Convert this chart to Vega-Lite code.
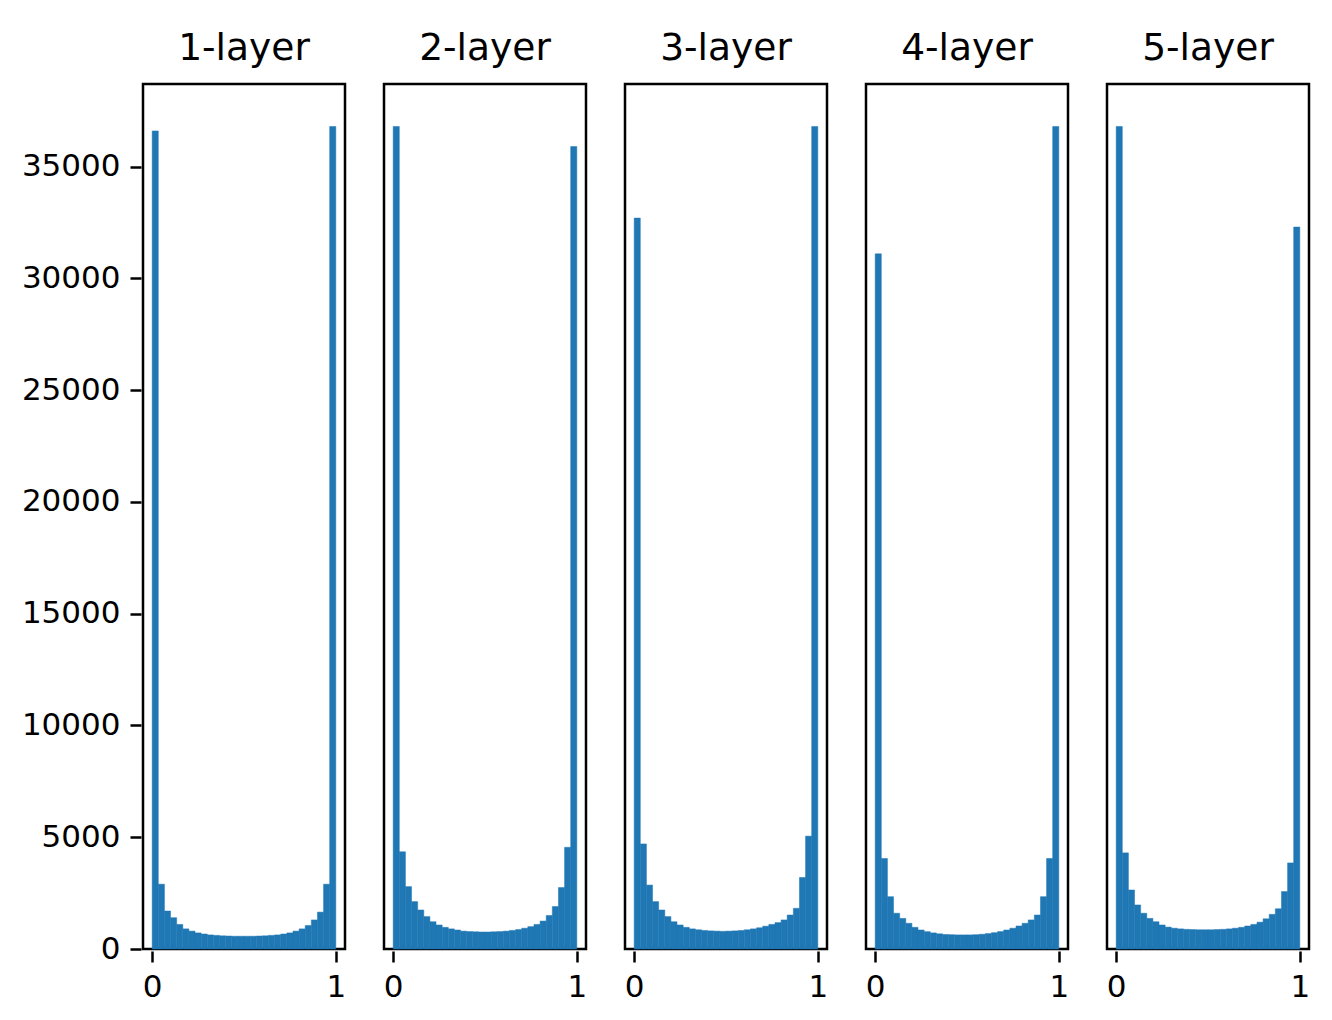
{
  "$schema": "https://vega.github.io/schema/vega-lite/v6.json",
  "background": "white",
  "padding": {"left": 21, "top": 30, "right": 10, "bottom": 10},
  "datasets": {
    "hist": [
      {"layer":"1-layer","b0":0,"b1":0.0333,"count":36600},{"layer":"1-layer","b0":0.0333,"b1":0.0667,"count":2900},{"layer":"1-layer","b0":0.0667,"b1":0.1,"count":1700},{"layer":"1-layer","b0":0.1,"b1":0.1333,"count":1400},{"layer":"1-layer","b0":0.1333,"b1":0.1667,"count":1100},{"layer":"1-layer","b0":0.1667,"b1":0.2,"count":900},{"layer":"1-layer","b0":0.2,"b1":0.2333,"count":800},{"layer":"1-layer","b0":0.2333,"b1":0.2667,"count":720},{"layer":"1-layer","b0":0.2667,"b1":0.3,"count":670},{"layer":"1-layer","b0":0.3,"b1":0.3333,"count":630},{"layer":"1-layer","b0":0.3333,"b1":0.3667,"count":610},{"layer":"1-layer","b0":0.3667,"b1":0.4,"count":590},{"layer":"1-layer","b0":0.4,"b1":0.4333,"count":580},{"layer":"1-layer","b0":0.4333,"b1":0.4667,"count":570},{"layer":"1-layer","b0":0.4667,"b1":0.5,"count":570},{"layer":"1-layer","b0":0.5,"b1":0.5333,"count":570},{"layer":"1-layer","b0":0.5333,"b1":0.5667,"count":570},{"layer":"1-layer","b0":0.5667,"b1":0.6,"count":580},{"layer":"1-layer","b0":0.6,"b1":0.6333,"count":590},{"layer":"1-layer","b0":0.6333,"b1":0.6667,"count":610},{"layer":"1-layer","b0":0.6667,"b1":0.7,"count":630},{"layer":"1-layer","b0":0.7,"b1":0.7333,"count":670},{"layer":"1-layer","b0":0.7333,"b1":0.7667,"count":720},{"layer":"1-layer","b0":0.7667,"b1":0.8,"count":800},{"layer":"1-layer","b0":0.8,"b1":0.8333,"count":900},{"layer":"1-layer","b0":0.8333,"b1":0.8667,"count":1050},{"layer":"1-layer","b0":0.8667,"b1":0.9,"count":1300},{"layer":"1-layer","b0":0.9,"b1":0.9333,"count":1650},{"layer":"1-layer","b0":0.9333,"b1":0.9667,"count":2900},{"layer":"1-layer","b0":0.9667,"b1":1,"count":36800},
      {"layer":"2-layer","b0":0,"b1":0.0333,"count":36800},{"layer":"2-layer","b0":0.0333,"b1":0.0667,"count":4350},{"layer":"2-layer","b0":0.0667,"b1":0.1,"count":2790},{"layer":"2-layer","b0":0.1,"b1":0.1333,"count":2120},{"layer":"2-layer","b0":0.1333,"b1":0.1667,"count":1745},{"layer":"2-layer","b0":0.1667,"b1":0.2,"count":1450},{"layer":"2-layer","b0":0.2,"b1":0.2333,"count":1220},{"layer":"2-layer","b0":0.2333,"b1":0.2667,"count":1075},{"layer":"2-layer","b0":0.2667,"b1":0.3,"count":970},{"layer":"2-layer","b0":0.3,"b1":0.3333,"count":900},{"layer":"2-layer","b0":0.3333,"b1":0.3667,"count":850},{"layer":"2-layer","b0":0.3667,"b1":0.4,"count":800},{"layer":"2-layer","b0":0.4,"b1":0.4333,"count":780},{"layer":"2-layer","b0":0.4333,"b1":0.4667,"count":770},{"layer":"2-layer","b0":0.4667,"b1":0.5,"count":760},{"layer":"2-layer","b0":0.5,"b1":0.5333,"count":760},{"layer":"2-layer","b0":0.5333,"b1":0.5667,"count":770},{"layer":"2-layer","b0":0.5667,"b1":0.6,"count":780},{"layer":"2-layer","b0":0.6,"b1":0.6333,"count":800},{"layer":"2-layer","b0":0.6333,"b1":0.6667,"count":830},{"layer":"2-layer","b0":0.6667,"b1":0.7,"count":870},{"layer":"2-layer","b0":0.7,"b1":0.7333,"count":930},{"layer":"2-layer","b0":0.7333,"b1":0.7667,"count":1000},{"layer":"2-layer","b0":0.7667,"b1":0.8,"count":1100},{"layer":"2-layer","b0":0.8,"b1":0.8333,"count":1250},{"layer":"2-layer","b0":0.8333,"b1":0.8667,"count":1500},{"layer":"2-layer","b0":0.8667,"b1":0.9,"count":1900},{"layer":"2-layer","b0":0.9,"b1":0.9333,"count":2750},{"layer":"2-layer","b0":0.9333,"b1":0.9667,"count":4550},{"layer":"2-layer","b0":0.9667,"b1":1,"count":35900},
      {"layer":"3-layer","b0":0,"b1":0.0333,"count":32700},{"layer":"3-layer","b0":0.0333,"b1":0.0667,"count":4700},{"layer":"3-layer","b0":0.0667,"b1":0.1,"count":2860},{"layer":"3-layer","b0":0.1,"b1":0.1333,"count":2120},{"layer":"3-layer","b0":0.1333,"b1":0.1667,"count":1745},{"layer":"3-layer","b0":0.1667,"b1":0.2,"count":1450},{"layer":"3-layer","b0":0.2,"b1":0.2333,"count":1220},{"layer":"3-layer","b0":0.2333,"b1":0.2667,"count":1075},{"layer":"3-layer","b0":0.2667,"b1":0.3,"count":970},{"layer":"3-layer","b0":0.3,"b1":0.3333,"count":900},{"layer":"3-layer","b0":0.3333,"b1":0.3667,"count":860},{"layer":"3-layer","b0":0.3667,"b1":0.4,"count":830},{"layer":"3-layer","b0":0.4,"b1":0.4333,"count":810},{"layer":"3-layer","b0":0.4333,"b1":0.4667,"count":800},{"layer":"3-layer","b0":0.4667,"b1":0.5,"count":790},{"layer":"3-layer","b0":0.5,"b1":0.5333,"count":800},{"layer":"3-layer","b0":0.5333,"b1":0.5667,"count":810},{"layer":"3-layer","b0":0.5667,"b1":0.6,"count":830},{"layer":"3-layer","b0":0.6,"b1":0.6333,"count":860},{"layer":"3-layer","b0":0.6333,"b1":0.6667,"count":900},{"layer":"3-layer","b0":0.6667,"b1":0.7,"count":950},{"layer":"3-layer","b0":0.7,"b1":0.7333,"count":1020},{"layer":"3-layer","b0":0.7333,"b1":0.7667,"count":1100},{"layer":"3-layer","b0":0.7667,"b1":0.8,"count":1180},{"layer":"3-layer","b0":0.8,"b1":0.8333,"count":1300},{"layer":"3-layer","b0":0.8333,"b1":0.8667,"count":1520},{"layer":"3-layer","b0":0.8667,"b1":0.9,"count":1820},{"layer":"3-layer","b0":0.9,"b1":0.9333,"count":3200},{"layer":"3-layer","b0":0.9333,"b1":0.9667,"count":5050},{"layer":"3-layer","b0":0.9667,"b1":1,"count":36800},
      {"layer":"4-layer","b0":0,"b1":0.0333,"count":31100},{"layer":"4-layer","b0":0.0333,"b1":0.0667,"count":4050},{"layer":"4-layer","b0":0.0667,"b1":0.1,"count":2340},{"layer":"4-layer","b0":0.1,"b1":0.1333,"count":1600},{"layer":"4-layer","b0":0.1333,"b1":0.1667,"count":1370},{"layer":"4-layer","b0":0.1667,"b1":0.2,"count":1150},{"layer":"4-layer","b0":0.2,"b1":0.2333,"count":970},{"layer":"4-layer","b0":0.2333,"b1":0.2667,"count":850},{"layer":"4-layer","b0":0.2667,"b1":0.3,"count":775},{"layer":"4-layer","b0":0.3,"b1":0.3333,"count":720},{"layer":"4-layer","b0":0.3333,"b1":0.3667,"count":680},{"layer":"4-layer","b0":0.3667,"b1":0.4,"count":650},{"layer":"4-layer","b0":0.4,"b1":0.4333,"count":640},{"layer":"4-layer","b0":0.4333,"b1":0.4667,"count":630},{"layer":"4-layer","b0":0.4667,"b1":0.5,"count":630},{"layer":"4-layer","b0":0.5,"b1":0.5333,"count":630},{"layer":"4-layer","b0":0.5333,"b1":0.5667,"count":640},{"layer":"4-layer","b0":0.5667,"b1":0.6,"count":660},{"layer":"4-layer","b0":0.6,"b1":0.6333,"count":690},{"layer":"4-layer","b0":0.6333,"b1":0.6667,"count":730},{"layer":"4-layer","b0":0.6667,"b1":0.7,"count":780},{"layer":"4-layer","b0":0.7,"b1":0.7333,"count":850},{"layer":"4-layer","b0":0.7333,"b1":0.7667,"count":930},{"layer":"4-layer","b0":0.7667,"b1":0.8,"count":1030},{"layer":"4-layer","b0":0.8,"b1":0.8333,"count":1150},{"layer":"4-layer","b0":0.8333,"b1":0.8667,"count":1300},{"layer":"4-layer","b0":0.8667,"b1":0.9,"count":1520},{"layer":"4-layer","b0":0.9,"b1":0.9333,"count":2340},{"layer":"4-layer","b0":0.9333,"b1":0.9667,"count":4050},{"layer":"4-layer","b0":0.9667,"b1":1,"count":36800},
      {"layer":"5-layer","b0":0,"b1":0.0333,"count":36800},{"layer":"5-layer","b0":0.0333,"b1":0.0667,"count":4300},{"layer":"5-layer","b0":0.0667,"b1":0.1,"count":2640},{"layer":"5-layer","b0":0.1,"b1":0.1333,"count":1970},{"layer":"5-layer","b0":0.1333,"b1":0.1667,"count":1600},{"layer":"5-layer","b0":0.1667,"b1":0.2,"count":1370},{"layer":"5-layer","b0":0.2,"b1":0.2333,"count":1220},{"layer":"5-layer","b0":0.2333,"b1":0.2667,"count":1075},{"layer":"5-layer","b0":0.2667,"b1":0.3,"count":980},{"layer":"5-layer","b0":0.3,"b1":0.3333,"count":930},{"layer":"5-layer","b0":0.3333,"b1":0.3667,"count":900},{"layer":"5-layer","b0":0.3667,"b1":0.4,"count":880},{"layer":"5-layer","b0":0.4,"b1":0.4333,"count":870},{"layer":"5-layer","b0":0.4333,"b1":0.4667,"count":860},{"layer":"5-layer","b0":0.4667,"b1":0.5,"count":860},{"layer":"5-layer","b0":0.5,"b1":0.5333,"count":860},{"layer":"5-layer","b0":0.5333,"b1":0.5667,"count":870},{"layer":"5-layer","b0":0.5667,"b1":0.6,"count":880},{"layer":"5-layer","b0":0.6,"b1":0.6333,"count":900},{"layer":"5-layer","b0":0.6333,"b1":0.6667,"count":930},{"layer":"5-layer","b0":0.6667,"b1":0.7,"count":970},{"layer":"5-layer","b0":0.7,"b1":0.7333,"count":1030},{"layer":"5-layer","b0":0.7333,"b1":0.7667,"count":1100},{"layer":"5-layer","b0":0.7667,"b1":0.8,"count":1200},{"layer":"5-layer","b0":0.8,"b1":0.8333,"count":1350},{"layer":"5-layer","b0":0.8333,"b1":0.8667,"count":1550},{"layer":"5-layer","b0":0.8667,"b1":0.9,"count":1800},{"layer":"5-layer","b0":0.9,"b1":0.9333,"count":2570},{"layer":"5-layer","b0":0.9333,"b1":0.9667,"count":3850},{"layer":"5-layer","b0":0.9667,"b1":1,"count":32300}
    ]
  },
  "data": {"name": "hist"},
  "facet": {
    "column": {
      "field": "layer",
      "type": "nominal",
      "header": {
        "title": null,
        "labelFont": "DejaVu Sans",
        "labelFontSize": 37.6,
        "labelColor": "black",
        "labelOrient": "top",
        "labelPadding": 14
      }
    }
  },
  "spacing": 35,
  "spec": {
    "width": 202,
    "height": 865,
    "mark": {"type": "rect", "color": "#1f77b4", "stroke": "#1f77b4", "strokeWidth": 0.5},
    "encoding": {
      "x": {
        "field": "b0",
        "type": "quantitative",
        "scale": {"domain": [-0.05, 1.05], "nice": false, "zero": false},
        "axis": {"values": [0, 1], "format": "d", "title": null, "grid": false, "domain": false}
      },
      "x2": {"field": "b1"},
      "y": {
        "field": "count",
        "type": "quantitative",
        "scale": {"domain": [0, 38700], "nice": false},
        "axis": {"values": [0, 5000, 10000, 15000, 20000, 25000, 30000, 35000], "format": "d", "title": null, "grid": false, "domain": false}
      },
      "y2": {"datum": 0}
    }
  },
  "config": {
    "font": "DejaVu Sans",
    "view": {"stroke": "black", "strokeWidth": 2.5},
    "axis": {
      "labelFont": "DejaVu Sans",
      "labelFontSize": 31,
      "labelColor": "black",
      "tickColor": "black",
      "tickSize": 11,
      "tickWidth": 2.5,
      "labelPadding": 10
    }
  }
}
